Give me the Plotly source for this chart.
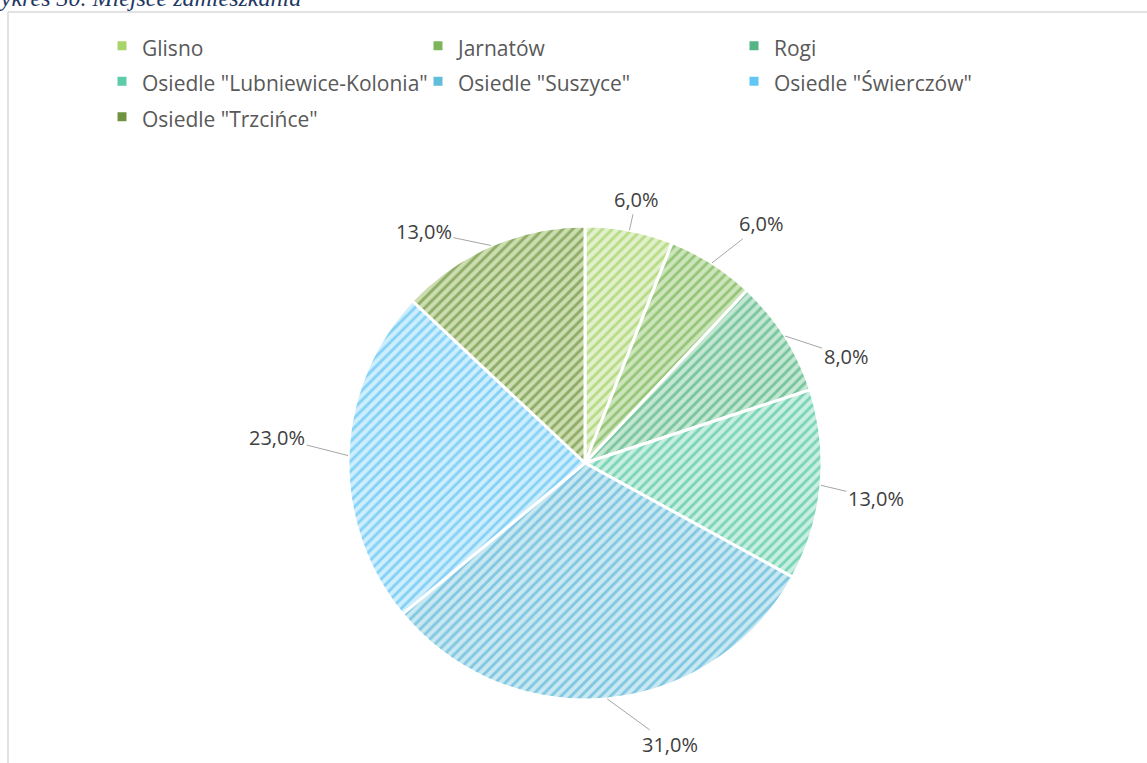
import math
import plotly.graph_objects as go

# data
labels = ["Glisno", "Jarnatów", "Rogi", 'Osiedle "Lubniewice-Kolonia"',
          'Osiedle "Suszyce"', 'Osiedle "Świerczów"', 'Osiedle "Trzcińce"']
values = [6, 6, 8, 13, 31, 23, 13]

# styles
stripe_colors = ["#8CC63F", "#5FA63A", "#2FA36A", "#2DB98F", "#3BA6CF", "#3DB3F0", "#4F7A1F"]
bg_colors = ["#E2F1CC", "#CDE5BA", "#C3E7D2", "#C8EFE0", "#C8E8F2", "#CDEEFC", "#CCDDAF"]
legend_colors = ["#A9D46A", "#7DB65A", "#55B585", "#5CCBAA", "#62BCDC", "#62C6F4", "#6E9440"]
# nudges (px) of each data label away from its slice edge
label_nudge = [(7, -31), (50, -39), (61, 20), (55, 13), (63, 46), (-71, -18), (-67, -14)]

W, H = 1147, 763
cx, cy, r = 585, 463, 237  # pie centre / radius in px

fig = go.Figure()
fig.add_trace(go.Pie(
    labels=labels,
    values=values,
    sort=False,
    direction="clockwise",
    rotation=0,
    textinfo="none",
    hoverinfo="label+percent",
    showlegend=False,
    marker=dict(
        colors=stripe_colors,
        line=dict(color="white", width=3),
        pattern=dict(shape="/", fgcolor=stripe_colors, bgcolor=bg_colors,
                     size=7, solidity=0.42, fillmode="overlay"),
    ),
    domain=dict(x=[(cx - r) / W, (cx + r) / W],
                y=[(H - cy - r) / H, (H - cy + r) / H]),
))

# legend entries as small squares (Excel style)
for lab, col in zip(labels, legend_colors):
    fig.add_trace(go.Scatter(
        x=[None], y=[None], mode="markers", name=f"<span style='font-size:21px'>{lab}</span>",
        marker=dict(symbol="square", size=9, color=col), hoverinfo="skip",
    ))

# data labels with leader lines, anchored at slice mid-angles
total = sum(values)
annotations = []
cum = 0
for v, (dx, dy) in zip(values, label_nudge):
    th = 2 * math.pi * (cum + v / 2) / total
    cum += v
    annotations.append(dict(
        x=(cx + r * math.sin(th)) / W, y=(H - cy + r * math.cos(th)) / H,
        xref="paper", yref="paper",
        text=f"{v / total * 100:.1f}%".replace(".", ","),
        showarrow=True, arrowhead=0, arrowwidth=1, arrowcolor="#A6A6A6",
        ax=dx, ay=dy, standoff=0,
        font=dict(family="Open Sans", size=20, color="#404040"),
    ))

# caption above the frame, cut by the top of the page as in the source
annotations.append(dict(
    x=0, y=1, xref="paper", yref="paper", xanchor="left", yanchor="bottom",
    xshift=-19, yshift=-13.5, showarrow=False,
    text="<i>Wykres 30. Miejsce zamieszkania</i>",
    font=dict(family="Liberation Serif", size=24, color="#1F3864"),
))

fig.update_layout(
    width=W, height=H,
    margin=dict(l=0, r=0, t=0, b=0),
    paper_bgcolor="white",
    plot_bgcolor="white",
    xaxis=dict(visible=False),
    yaxis=dict(visible=False),
    annotations=annotations,
    legend=dict(
        orientation="h", x=102 / W, y=1 - 23 / H, xanchor="left", yanchor="top",
        entrywidth=271, entrywidthmode="pixels",
        font=dict(family="Open Sans", size=25, color="#595959"),
        traceorder="normal",
    ),
    shapes=[
        dict(type="line", xref="paper", yref="paper", x0=8 / W, x1=1.01,
             y0=1 - 12 / H, y1=1 - 12 / H, line=dict(color="#D9D9D9", width=1.5)),
        dict(type="line", xref="paper", yref="paper", x0=8 / W, x1=8 / W,
             y0=-0.01, y1=1 - 12 / H, line=dict(color="#D9D9D9", width=1.5)),
    ],
)

fig.write_html("out.html", config={"displayModeBar": False},
               post_script="document.body.style.margin='0px';")
